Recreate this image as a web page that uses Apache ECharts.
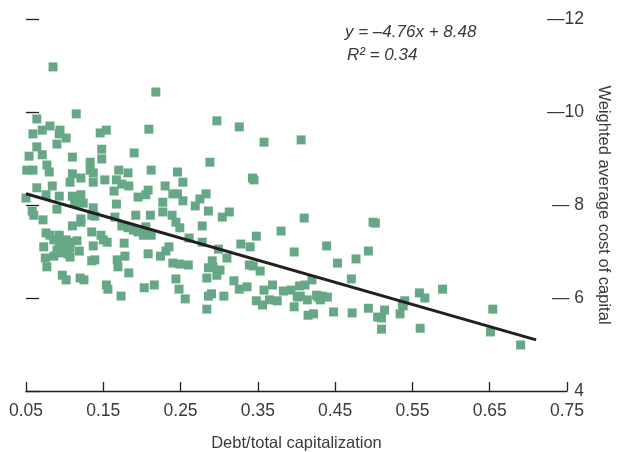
<!DOCTYPE html>
<html>
<head>
<meta charset="utf-8">
<script src="https://cdn.jsdelivr.net/npm/echarts@6/dist/echarts.min.js"></script>
<style>
  html, body { margin: 0; padding: 0; background: #ffffff; }
  #chart { width: 620px; height: 452px; }
</style>
</head>
<body>
<div id="chart"></div>
<script>
// Debt/total capitalization for each firm
const debtRatio = [
  0.085,0.218,0.115,0.064,0.081,0.071,0.094,0.059,0.093,0.102,
  0.146,0.154,0.209,0.297,0.326,0.358,0.406,0.064,0.090,0.148,
  0.054,0.071,0.110,0.190,0.148,0.133,0.077,0.288,0.051,0.059,
  0.080,0.170,0.182,0.212,0.246,0.110,0.121,0.133,0.137,0.137,
  0.107,0.152,0.167,0.174,0.183,0.253,0.343,0.345,0.084,0.064,
  0.230,0.164,0.093,0.076,0.050,0.110,0.121,0.113,0.124,0.195,
  0.205,0.208,0.240,0.246,0.253,0.227,0.269,0.275,0.283,0.167,
  0.090,0.058,0.060,0.286,0.313,0.304,0.410,0.192,0.211,0.227,
  0.239,0.137,0.135,0.139,0.121,0.165,0.072,0.499,0.110,0.121,
  0.174,0.182,0.189,0.195,0.202,0.212,0.244,0.249,0.278,0.076,
  0.081,0.073,0.075,0.077,0.093,0.086,0.093,0.102,0.107,0.116,
  0.090,0.098,0.104,0.093,0.086,0.107,0.119,0.097,0.102,0.120,
  0.125,0.135,0.137,0.135,0.139,0.147,0.150,0.155,0.177,0.178,
  0.168,0.169,0.183,0.154,0.156,0.173,0.203,0.216,0.208,0.224,
  0.231,0.261,0.278,0.240,0.249,0.260,0.244,0.248,0.256,0.299,
  0.310,0.291,0.292,0.301,0.297,0.284,0.286,0.290,0.284,0.306,
  0.328,0.340,0.348,0.380,0.339,0.344,0.353,0.319,0.326,0.336,
  0.397,0.348,0.356,0.358,0.369,0.365,0.375,0.383,0.393,0.401,
  0.397,0.404,0.411,0.420,0.414,0.415,0.422,0.428,0.502,0.439,
  0.493,0.477,0.453,0.471,0.405,0.426,0.433,0.440,0.431,0.448,
  0.472,0.493,0.514,0.505,0.510,0.510,0.534,0.537,0.540,0.538,
  0.559,0.566,0.560,0.589,0.654,0.651,0.690,0.205,0.107,0.235,
  0.286
];

// Weighted average cost of capital (%) for the same firms
const costOfCapital = [
  10.97,10.43,9.96,9.85,9.70,9.61,9.61,9.53,9.53,9.44,
  9.55,9.61,9.63,9.81,9.68,9.35,9.40,9.25,9.31,9.20,
  9.05,9.08,9.03,9.12,8.99,8.92,8.86,8.92,8.75,8.75,
  8.71,8.75,8.69,8.75,8.71,8.67,8.58,8.75,8.69,8.49,
  8.49,8.54,8.54,8.45,8.41,8.49,8.58,8.54,8.41,8.37,
  8.41,8.30,8.19,8.22,8.15,8.19,8.22,8.04,8.04,8.17,
  8.22,8.32,8.24,8.24,8.09,8.06,7.98,8.13,8.24,8.02,
  7.91,7.87,7.78,7.87,7.85,7.74,7.72,7.78,7.78,7.85,
  7.78,7.94,7.78,7.76,7.70,7.74,7.68,7.63,7.55,7.63,
  7.55,7.51,7.46,7.42,7.35,7.35,7.63,7.51,7.55,7.40,
  7.35,7.10,6.86,6.67,7.35,7.25,7.18,7.25,7.20,7.23,
  7.03,7.10,6.95,6.97,6.90,6.88,7.01,6.49,6.39,6.43,
  6.39,7.42,7.12,6.80,6.82,7.35,7.25,7.20,7.18,6.90,
  6.82,6.67,6.54,6.28,6.19,6.04,6.22,6.28,6.95,6.90,
  7.01,7.29,7.20,6.75,6.73,6.71,6.41,6.19,5.98,7.05,
  6.86,6.80,6.67,6.60,6.49,6.43,6.04,6.09,5.76,6.04,
  7.16,7.10,7.33,7.44,6.71,6.69,6.58,6.37,6.19,6.24,
  6.99,5.94,5.85,6.17,6.28,5.96,5.94,6.15,6.17,6.02,
  5.81,6.26,6.28,6.39,5.96,5.63,5.66,6.02,7.61,7.12,
  7.01,6.84,6.75,6.41,6.04,6.06,6.04,6.02,5.96,5.70,
  5.68,5.78,5.74,5.59,5.57,5.33,5.66,5.87,5.94,5.83,
  6.11,6.00,5.35,6.19,5.76,5.27,4.99,7.53,7.08,7.10,
  6.65
];

// Axis ticks
const xTickValues = [0.05, 0.15, 0.25, 0.35, 0.45, 0.55, 0.65, 0.75];
const yTickValues = [4, 6, 8, 10, 12];
const yTickLabels = ['4', '\u2014 6', '\u2014 8', '\u201410', '\u201412'];

// Least-squares fit shown on the chart
const fitSlope = -4.76;
const fitIntercept = 8.48;
const fitXRange = [0.05, 0.71];
const equationLines = ['y = \u20134.76x + 8.48', 'R\u00B2 = 0.34'];

const FONT = "'Liberation Sans Narrow', 'Arial Narrow', 'Liberation Sans', sans-serif";
const INK = '#231f20';
const TEXT = '#3a3a3a';

const points = debtRatio.map((x, i) => [x, costOfCapital[i]]);
const fitLine = fitXRange.map(x => [x, fitIntercept + fitSlope * x]);

const chart = echarts.init(document.getElementById('chart'), null, { renderer: 'canvas' });

chart.setOption({
  animation: false,
  backgroundColor: '#ffffff',
  textStyle: { fontFamily: FONT },
  grid: { left: 26, right: 53, top: 19, bottom: 61, containLabel: false, outerBoundsMode: 'none' },
  xAxis: {
    type: 'value',
    min: xTickValues[0],
    max: xTickValues[xTickValues.length - 1],
    interval: 0.1,
    name: 'Debt/total capitalization',
    nameLocation: 'middle',
    nameGap: 44,
    nameTextStyle: { fontFamily: FONT, fontSize: 16.5, color: TEXT },
    axisLine: { show: true, lineStyle: { color: INK, width: 1.3 } },
    axisTick: { show: true, inside: true, length: 9, lineStyle: { color: INK, width: 1.3 } },
    axisLabel: {
      fontFamily: FONT, fontSize: 17.5, color: TEXT, margin: 11,
      formatter: v => v.toFixed(2)
    },
    splitLine: { show: false }
  },
  yAxis: [
    {
      type: 'value',
      position: 'right',
      min: yTickValues[0],
      max: yTickValues[yTickValues.length - 1],
      interval: 2,
      name: 'Weighted average cost of capital',
      nameLocation: 'middle',
      nameRotate: -90,
      nameGap: 28,
      nameTextStyle: { fontFamily: FONT, fontSize: 16.5, color: TEXT },
      axisLine: { show: false },
      axisTick: { show: false },
      axisLabel: {
        fontFamily: FONT, fontSize: 17.5, color: TEXT, align: 'right', margin: 17,
        formatter: v => yTickLabels[yTickValues.indexOf(v)]
      },
      splitLine: { show: false }
    },
    {
      type: 'value',
      position: 'left',
      min: yTickValues[0],
      max: yTickValues[yTickValues.length - 1],
      interval: 2,
      axisLine: { show: false },
      axisTick: { show: true, inside: true, length: 13, lineStyle: { color: INK, width: 1.3 } },
      axisLabel: { show: false },
      splitLine: { show: false }
    }
  ],
  graphic: [
    {
      type: 'text', left: 345, top: 24,
      style: { text: equationLines[0], font: 'italic 17px ' + FONT, fill: TEXT }
    },
    {
      type: 'text', left: 347, top: 47,
      style: { text: equationLines[1], font: 'italic 17px ' + FONT, fill: TEXT }
    }
  ],
  series: [
    {
      type: 'scatter',
      yAxisIndex: 0,
      data: points,
      symbol: 'rect',
      symbolSize: 9,
      itemStyle: { color: '#66a886', opacity: 1 },
      z: 2
    },
    {
      type: 'line',
      yAxisIndex: 0,
      data: fitLine,
      symbol: 'none',
      lineStyle: { color: INK, width: 3 },
      z: 3
    }
  ]
});
</script>
</body>
</html>
